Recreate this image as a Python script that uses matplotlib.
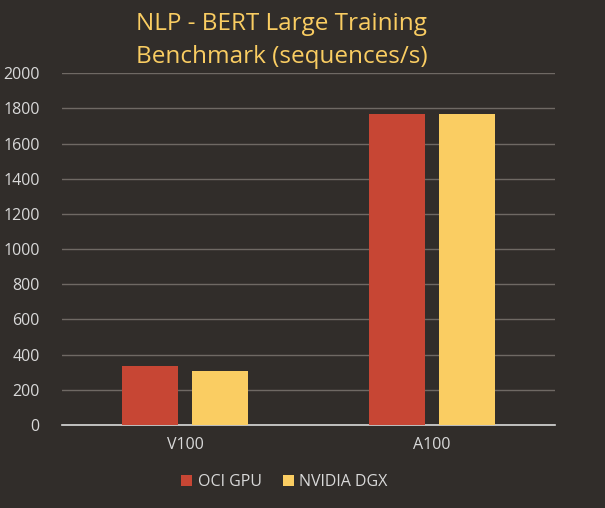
import matplotlib
matplotlib.use("Agg")
import matplotlib.pyplot as plt
import numpy as np

categories = ["V100", "A100"]
series_names = ["OCI GPU", "NVIDIA DGX"]
oci_gpu = [337, 1770]
nvidia_dgx = [309, 1770]
yticks = [0, 200, 400, 600, 800, 1000, 1200, 1400, 1600, 1800, 2000]

bg = "#312D2A"
red = "#C74634"
yellow = "#FACD62"
txt = "#D9D9D9"
grid = "#6F6964"

plt.rcParams['font.family'] = ['Open Sans', 'DejaVu Sans']

fig = plt.figure(figsize=(6.05, 5.08), dpi=100, facecolor=bg)
ax = fig.add_axes([0.1025, 0.1634, 0.8145, 0.6926], facecolor=bg)

x = np.arange(len(categories))
w = 0.227
off = 0.142
ax.bar(x - off, oci_gpu, w, color=red, label=series_names[0], zorder=3)
ax.bar(x + off, nvidia_dgx, w, color=yellow, label=series_names[1], zorder=3)

ax.set_xlim(-0.5, 1.5)
ax.set_ylim(0, 2000)
ax.set_yticks(yticks)
ax.set_xticks(x)
ax.set_xticklabels(categories)
ax.yaxis.grid(True, color=grid, linewidth=1, zorder=0)
ax.set_axisbelow(True)
for s in ["left", "right", "top"]:
    ax.spines[s].set_visible(False)
ax.spines["bottom"].set_color("#D9D9D9")
ax.spines["bottom"].set_linewidth(1.2)
ax.tick_params(axis="both", length=0, colors=txt, labelsize=11.5)
ax.tick_params(axis="y", pad=16)
ax.tick_params(axis="x", pad=9)

fig.text(0.466, 0.952, "NLP - BERT Large Training", color=yellow, fontsize=17.5,
         ha="center", va="center")
fig.text(0.466, 0.887, "Benchmark (sequences/s)", color=yellow, fontsize=17.5,
         ha="center", va="center")

leg = fig.legend(loc="center", bbox_to_anchor=(0.47, 0.051), ncol=2, frameon=False,
                 fontsize=11.5, handlelength=0.7, handleheight=0.7, handletextpad=0.35,
                 columnspacing=1.3)
for t in leg.get_texts():
    t.set_color(txt)

fig.savefig("out.png", dpi=100, facecolor=bg)
